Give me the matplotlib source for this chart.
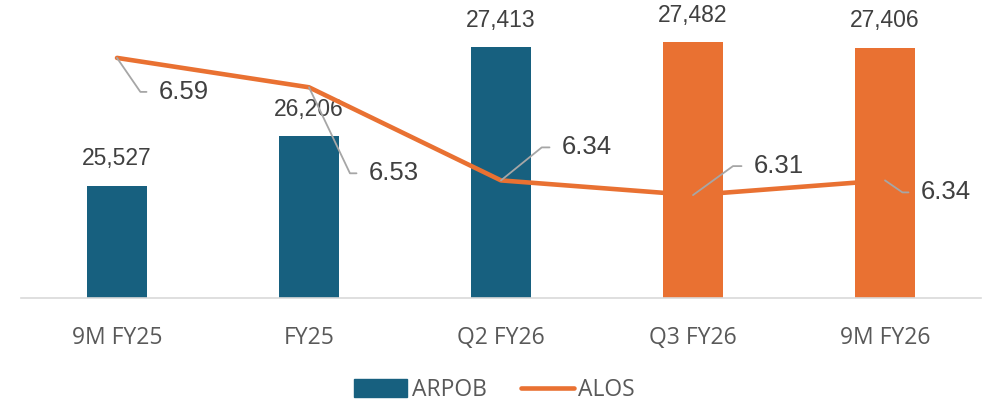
import numpy as np
import matplotlib.pyplot as plt
from matplotlib.patches import Patch
from matplotlib.lines import Line2D

categories = ["9M FY25", "FY25", "Q2 FY26", "Q3 FY26", "9M FY26"]
arpob = [25527, 26206, 27413, 27482, 27406]
alos = [6.59, 6.53, 6.34, 6.31, 6.34]

blue = "#17607F"
orange = "#E97132"
bar_colors = [blue, blue, blue, orange, orange]

# label placement for the ALOS points: text offset (px) and leader slope (px)
lab_off = [(42, -34), (60, -86), (61, 33), (61, 29), (36, -12)]
lead_dir = [(22, -32), (40, -84), (42, 34), (40, 29), (16, -11)]

fig = plt.figure(figsize=(9.89, 4.05), dpi=100)
ax = fig.add_axes([21 / 989, 107 / 405, 960 / 989, 294 / 405])
x = np.arange(len(categories))

bars = ax.bar(x, arpob, width=0.31, color=bar_colors, zorder=2)
ax.set_ylim(24000, 28000)
ax.set_xlim(-0.5, len(categories) - 0.5)
ax.bar_label(bars, labels=[f"{v:,}" for v in arpob], padding=11,
             fontsize=16.5, color="#404040", family="Liberation Sans")

ax.set_yticks([])
for s in ["top", "right", "left"]:
    ax.spines[s].set_visible(False)
ax.spines["bottom"].set_color("#D9D9D9")
ax.spines["bottom"].set_linewidth(1.2)
ax.set_xticks(x)
ax.set_xticklabels(categories, fontsize=16.5, color="#595959", family="Open Sans")
ax.tick_params(axis="x", length=0, pad=20)

ax2 = ax.twinx()
ax2.set_ylim(6.1, 6.7)
ax2.plot(x, alos, color=orange, lw=3.3, solid_capstyle="round",
         solid_joinstyle="round", zorder=3)
ax2.set_yticks([])
for s in ax2.spines.values():
    s.set_visible(False)

for xi, v, (ox, oy), (dx, dy) in zip(x, alos, lab_off, lead_dir):
    ang = np.degrees(np.arctan2(dy, dx))
    ax2.annotate(f"{v:.2f}", xy=(xi, v), xytext=(ox * 0.72, oy * 0.72),
                 textcoords="offset points", ha="left", va="center",
                 fontsize=18.5, color="#404040", family="Liberation Sans",
                 arrowprops=dict(arrowstyle="-", color="#A6A6A6", lw=1.3,
                                 shrinkA=7, shrinkB=0, relpos=(0, 0.5),
                                 connectionstyle=f"angle,angleA=0,angleB={ang},rad=0"),
                 zorder=4)

handles = [Patch(color=blue, label="ARPOB"),
           Line2D([], [], color=orange, lw=3.3, solid_capstyle="round", label="ALOS")]
fig.legend(handles=handles, loc="center", bbox_to_anchor=(0.5, 15 / 405), ncol=2,
           frameon=False, prop={"family": "Open Sans", "size": 16.5},
           labelcolor="#595959", handlelength=2.3, handleheight=0.8,
           columnspacing=1.5, handletextpad=0.2)

fig.savefig("out.png", dpi=100)
